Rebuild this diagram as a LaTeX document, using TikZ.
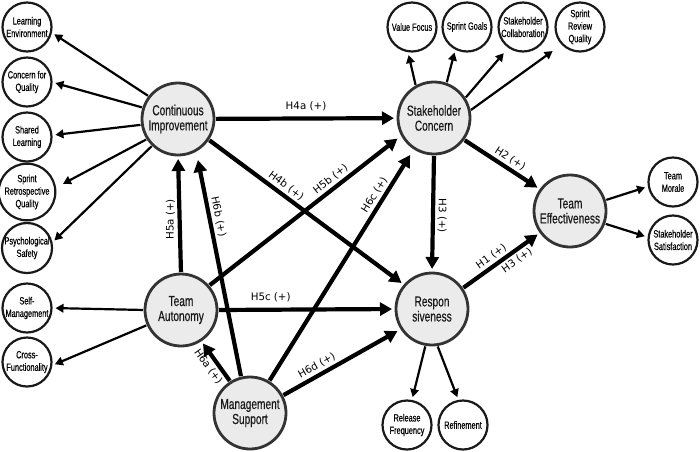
\documentclass[tikz,border=0pt]{standalone}
\usepackage{fontspec}
\setmainfont{Liberation Sans}
\newfontfamily\nodefont[FakeStretch=0.70,FakeBold=0.4]{Liberation Sans}
\newfontfamily\labelfont{DejaVu Sans}
\usetikzlibrary{arrows.meta}
\definecolor{bigfill}{HTML}{EBEBEB}
\definecolor{bigdraw}{HTML}{333333}
\begin{document}
\begin{tikzpicture}[x=1pt,y=-1pt,
  big/.style={circle, draw=bigdraw, line width=2.8pt, fill=bigfill, minimum size=72pt, inner sep=0pt, outer sep=0pt, align=center, font=\nodefont\fontsize{14.5}{15}\selectfont, text=black!90},
  small/.style={circle, draw=black!90, line width=2.2pt, fill=white, minimum size=49pt, inner sep=0pt, outer sep=0pt, align=center, font=\nodefont\fontsize{10.5}{12.5}\selectfont},
  thin arrow/.style={line width=2.2pt, -{Triangle[length=8pt,width=8.5pt]}, shorten <=2pt, shorten >=4pt},
  thick arrow/.style={line width=4.2pt, -{Triangle[length=12pt,width=13pt]}, shorten <=2pt, shorten >=4pt},
  lab/.style={font=\labelfont\fontsize{10.3}{12}\selectfont, inner sep=2.5pt}
]
\fill[white] (0,0) rectangle (700,451);
\useasboundingbox (0,0) rectangle (700,451);
% main constructs
\node[big] (ci) at (178,119) {Continuous\\Improvement};
\node[big] (sc) at (434,118) {Stakeholder\\Concern};
\node[big] (te) at (570,211) {Team\\Effectiveness};
\node[big] (resp) at (432,309) {Respon\\siveness};
\node[big] (ta) at (181,310) {Team\\Autonomy};
\node[big] (ms) at (250,413) {Management\\Support};
% indicators
\node[small] (le) at (27,27) {Learning\\Environment};
\node[small] (cq) at (27,82) {Concern for\\Quality};
\node[small] (sl) at (27,137) {Shared\\Learning};
\node[small] (srq) at (27,192) {Sprint\\Retrospective\\Quality};
\node[small] (ps) at (27,248) {Psychological\\Safety};
\node[small] (sm) at (27,308) {Self-\\Management};
\node[small] (cf) at (27,362) {Cross-\\Functionality};
\node[small] (vf) at (412,27) {Value Focus};
\node[small] (sg) at (467,27) {Sprint Goals};
\node[small] (scol) at (523,27) {Stakeholder\\Collaboration};
\node[small] (srv) at (580,27) {Sprint\\Review\\Quality};
\node[small] (tm) at (673,182) {Team\\Morale};
\node[small] (ss) at (673,240) {Stakeholder\\Satisfaction};
\node[small] (rf) at (407,425) {Release\\Frequency};
\node[small] (ref) at (463,425) {Refinement};
% indicator arrows
\draw[thin arrow] (ci.142) -- (le.-12);
\draw[thin arrow] (ci.162) -- (cq.0);
\draw[thin arrow] (ci.-171) -- (sl.4);
\draw[thin arrow, shorten >=9pt] (ci.-147) -- (srq.8);
\draw[thin arrow] (ci.-134) -- (ps.11);
\draw[thin arrow] (ta.180) -- (sm.0);
\draw[thin arrow] (ta.-156) -- (cf.-9);
\draw[thin arrow] (sc.120) -- (vf.-100);
\draw[thin arrow] (sc.70) -- (sg.-118);
\draw[thin arrow, shorten >=8pt] (sc.32) -- (scol.-125);
\draw[thin arrow, shorten >=12pt] (sc.11) -- (srv.-136);
\draw[thin arrow] (te.17) -- (tm.-170);
\draw[thin arrow] (te.-20) -- (ss.174);
\draw[thin arrow] (resp.-100) -- (rf.79);
\draw[thin arrow] (resp.-82) -- (ref.100);
% hypotheses
\draw[thick arrow] (ci) -- (sc) node[lab, midway, above=3pt] {H4a (+)};
\draw[thick arrow] (ci.-34) -- (resp.139) node[lab, pos=0.37, sloped, above] {H4b (+)};
\draw[thick arrow, shorten >=6pt] (ta.41) -- (sc.-152) node[lab, pos=0.66, sloped, above] {H5b (+)};
\draw[thick arrow, shorten >=8pt] (ms.59) -- (sc.-123) node[lab, pos=0.78, sloped, above] {H6c (+)};
\draw[thick arrow, shorten >=10pt] (ms.104) -- (ci.-60) node[lab, pos=0.7, sloped, above] {H6b (+)};
\draw[thick arrow] (ta.90) -- (ci.-90) node[lab, pos=0.46, rotate=90, above] {H5a (+)};
\draw[thick arrow] (ta.0) -- (resp.180) node[lab, pos=0.3, above=3pt] {H5c (+)};
\draw[thick arrow] (ms.122) -- (ta.-57) node[lab, pos=0.5, sloped, below] {H6a (+)};
\draw[thick arrow, shorten >=5pt] (ms.28) -- (resp.-147) node[lab, pos=0.33, sloped, above] {H6d (+)};
\draw[thick arrow] (sc.-90) -- (resp.90) node[lab, pos=0.52, rotate=-90, above] {H3 (+)};
\draw[thick arrow] (sc.-36) -- (te.144) node[lab, pos=0.54, sloped, above] {H2 (+)};
\draw[thick arrow] (resp.34) -- (te.-144) node[lab, pos=0.44, sloped, above] {H1 (+)} node[lab, pos=0.63, sloped, below] {H3 (+)};
\end{tikzpicture}
\end{document}
